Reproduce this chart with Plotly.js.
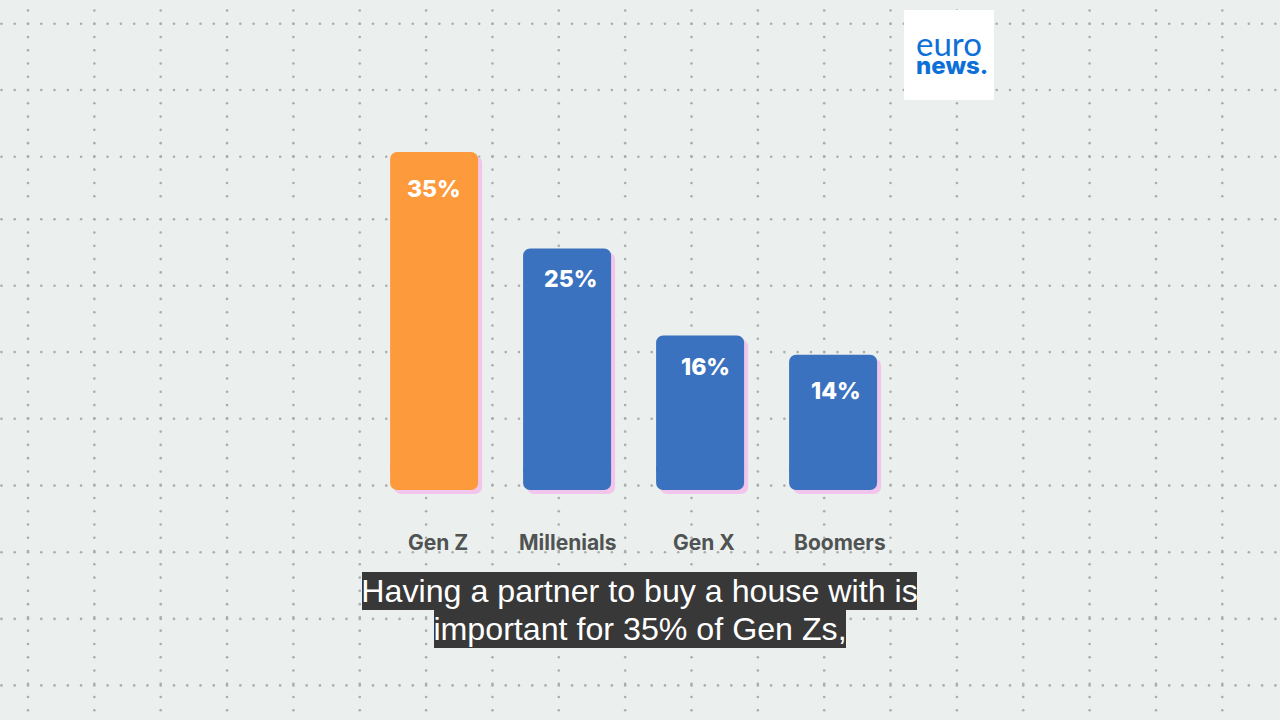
<!DOCTYPE html>
<html>
<head>
<meta charset="utf-8">
<script src="https://cdn.plot.ly/plotly-3.0.1.min.js"></script>
<style>html,body{margin:0;padding:0;background:#ebefed;overflow:hidden}#chart{width:1280px;height:720px}</style>
</head>
<body>
<div id="chart"></div>
<script>
// ---- data ----
const categories = ["Gen Z", "Millenials", "Gen X", "Boomers"];
const shares = [35, 25, 16, 14];
const valueLabels = ["35%", "25%", "16%", "14%"];
const captionLines = ["Having a partner to buy a house with is", "important for 35% of Gen Zs,"];
const logoWords = ["euro", "news."];

// ---- styling / placement ----
const barColors = ["#fd9a3b", "#3b72bf", "#3b72bf", "#3b72bf"];
const shadowColor = "#f2c6ec";
const W = 1280, H = 720;
const plotLeft = 367.6, plotRight = 899.6, plotTop = 100, baseY = 490;
const pxPerUnit = 338 / 35, radius = 7;
const foot = radius / pxPerUnit;
const valueDx = [0, 3, 5, 2.5], valueDy = [37, 30, 32, 36];
const labelDx = [3.5, 1, 4, 7];

// decorative dotted paper grid, in page pixels
const dotX = [], dotY = [];
const stepMinor = 13.27, colStart = 28, colStep = 66.35;
const rowSets = [{from: 23.7, to: 205, rows: [23.7, 90, 156.7]},
                 {from: 219.3, to: 720, rows: [219.3, 285.7, 352.1, 418.8, 485.6, 552.2, 618.9, 685.4]}];
rowSets.forEach(s => {
  s.rows.forEach(r => {
    for (let x = colStart - 2 * stepMinor; x < W; x += stepMinor) { dotX.push(x); dotY.push(r); }
  });
  for (let c = colStart; c < W; c += colStep) {
    const first = s.from === 23.7 ? s.from - stepMinor : s.from;
    for (let y = first; y < s.to; y += stepMinor) { dotX.push(c); dotY.push(y); }
  }
});

// Each bar is a body plus a foot that rounds the lower corners
function barPair(xa, ya, colors) {
  const common = {type: "bar", x: categories, width: 88 / 133, xaxis: xa, yaxis: ya, hoverinfo: "skip", showlegend: false, marker: {color: colors, line: {width: 0}}};
  return [
    Object.assign({}, common, {base: 2 * foot, y: shares.map(v => v - 2 * foot)}),
    Object.assign({}, common, {base: 4 * foot, y: shares.map(() => -4 * foot)})
  ];
}

const traces = [
  {type: "scatter", mode: "markers", x: dotX, y: dotY, xaxis: "x", yaxis: "y", hoverinfo: "skip", showlegend: false,
   marker: {size: 2.6, color: "#a9aeac", line: {width: 0}}},
  ...barPair("x2", "y2", shadowColor),
  ...barPair("x3", "y3", barColors)
];

const hidden = {visible: false, fixedrange: true, showgrid: false, zeroline: false};
const yMax = (baseY - plotTop) / pxPerUnit;
const dom = (a, b) => [a, b];
const layout = {
  width: W, height: H,
  margin: {l: 0, r: 0, t: 0, b: 0, pad: 0},
  paper_bgcolor: "#ebefed", plot_bgcolor: "rgba(0,0,0,0)",
  barmode: "overlay", barcornerradius: radius, showlegend: false,
  xaxis: Object.assign({}, hidden, {domain: [0, 1], range: [0, W]}),
  yaxis: Object.assign({}, hidden, {domain: [0, 1], range: [H, 0]}),
  xaxis2: Object.assign({}, hidden, {type: "category", categoryarray: categories, range: [-0.5, 3.5], domain: dom((plotLeft + 4) / W, (plotRight + 4) / W), anchor: "y2"}),
  yaxis2: Object.assign({}, hidden, {range: [0, yMax], domain: dom((H - baseY - 4) / H, (H - plotTop - 4) / H), anchor: "x2"}),
  xaxis3: Object.assign({}, hidden, {type: "category", categoryarray: categories, range: [-0.5, 3.5], domain: dom(plotLeft / W, plotRight / W), anchor: "y3"}),
  yaxis3: Object.assign({}, hidden, {range: [0, yMax], domain: dom((H - baseY) / H, (H - plotTop) / H), anchor: "x3"}),
  shapes: [{type: "rect", xref: "x", yref: "y", x0: 904, x1: 994, y0: 10, y1: 100, fillcolor: "#ffffff", line: {width: 0}, layer: "above"}],
  annotations: [
    ...categories.map((c, i) => ({xref: "x3", yref: "y3", x: i, y: 0, xshift: labelDx[i], yshift: -52, yanchor: "middle", xanchor: "center", showarrow: false, text: c,
      font: {family: "Inter, sans-serif", size: 21, weight: 700, color: "#505353"}})),
    ...valueLabels.map((t, i) => ({xref: "x3", yref: "y3", x: i, y: shares[i], xshift: valueDx[i], yshift: -valueDy[i], yanchor: "middle", xanchor: "center", showarrow: false, text: t,
      font: {family: "Inter, sans-serif", size: 23, weight: 800, color: "#ffffff"}})),
    {xref: "x", yref: "y", x: 639.5, y: 591, width: 555, height: 38, borderpad: 0, borderwidth: 0, bgcolor: "#383838", showarrow: false, text: captionLines[0],
     font: {family: "Liberation Sans, Arial, sans-serif", size: 32.2, color: "#ffffff"}},
    {xref: "x", yref: "y", x: 640, y: 629, width: 412, height: 38, borderpad: 0, borderwidth: 0, bgcolor: "#383838", showarrow: false, text: captionLines[1],
     font: {family: "Liberation Sans, Arial, sans-serif", size: 32.2, color: "#ffffff"}},
    {xref: "x", yref: "y", x: 915, y: 51.5, xanchor: "left", yanchor: "middle", align: "left", borderpad: 0, showarrow: false,
     text: '<span style="font-family:Lato;font-size:33px;font-weight:400">' + logoWords[0] + '</span><br><span style="font-family:Inter;font-size:24px;font-weight:800">' + logoWords[1] + '</span>',
     font: {family: "Inter, sans-serif", size: 13.5, color: "#0d6fd8"}}
  ]
};
Plotly.newPlot("chart", traces, layout, {displayModeBar: false, staticPlot: true});
</script>
</body>
</html>
